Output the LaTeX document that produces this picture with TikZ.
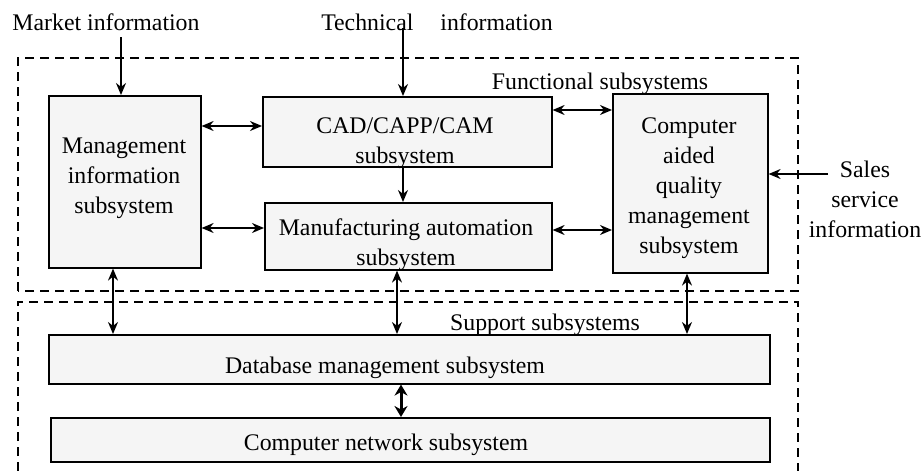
\documentclass[tikz,border=0pt]{standalone}
\usepackage{fontspec}
\setmainfont{Liberation Serif}
\usetikzlibrary{arrows.meta}
\begin{document}
\begin{tikzpicture}[x=1pt,y=-1pt,
  box/.style={draw=black,line width=1.6pt,fill=black!4,inner sep=0pt,anchor=north west},
  lbl/.style={font=\fontsize{23.8}{30}\selectfont,align=center,inner sep=0pt},
  grp/.style={draw=black,line width=1.6pt,dash pattern=on 9pt off 6pt},
  arr/.style={line width=1.5pt,-{Stealth[length=12pt,width=10pt]}},
  dbl/.style={line width=1.5pt,{Stealth[length=12pt,width=10pt]}-{Stealth[length=12pt,width=10pt]}},
  thk/.style={line width=3pt,{Stealth[length=11pt,width=13pt]}-{Stealth[length=11pt,width=13pt]}}]
\useasboundingbox (0,0) rectangle (924,471);
% group frames
\draw[grp] (18,291) -- (18,58) -- (798,58) -- (798,291) -- (18,291);
\draw[grp] (18,471) -- (18,302) -- (798,302) -- (798,471);
% boxes
\node[box,minimum width=152pt,minimum height=172pt] (mis) at (48,95) {};
\node[box,minimum width=289pt,minimum height=70pt] (cad) at (262,96) {};
\node[box,minimum width=287pt,minimum height=67pt] (mfg) at (264,202) {};
\node[box,minimum width=155pt,minimum height=179pt] (caq) at (612,93) {};
\node[box,minimum width=721pt,minimum height=49pt] (db) at (48,334) {};
\node[box,minimum width=719pt,minimum height=44pt] (net) at (50,417) {};
% box labels
\node[lbl] (misl) at (124,178) {Management\\information\\subsystem};
\node[lbl] (cadl) at (405,143) {CAD/CAPP/CAM\\subsystem};
\node[lbl] (mfgl) at (406,245) {Manufacturing automation\\subsystem};
\node[lbl] (caql) at (689,188) {Computer\\aided\\quality\\management\\subsystem};
\node[lbl] (dbl) at (385,368) {Database management subsystem};
\node[lbl] (netl) at (386,445) {Computer network subsystem};
% outside labels
\node[lbl] (mkt) at (106,22) {Market information};
\node[lbl] (tech) at (437,22) {Technical\hspace{21pt} information};
\node[lbl] (sales) at (865,199) {Sales\\service\\information};
\node[lbl] (fun) at (600,84) {Functional subsystems};
\node[lbl] (sup) at (545,325) {Support subsystems};
\coordinate (mktsrc) at (121,37);
\coordinate (techsrc) at (403,28);
\coordinate (salessrc) at (828,174);
% connectors
\draw[arr] (mktsrc) -- (mktsrc |- mis.north);
\draw[arr] (techsrc) -- (techsrc |- cad.north);
\draw[arr] (salessrc) -- (salessrc -| caq.east);
\draw[arr] (cad.south -| 403,0) -- (mfg.north -| 403,0);
\draw[dbl] (mis.east |- 0,126) -- (cad.west |- 0,126);
\draw[dbl] (mis.east |- 0,228) -- (mfg.west |- 0,228);
\draw[dbl] (cad.east |- 0,110) -- (caq.west |- 0,110);
\draw[dbl] (mfg.east |- 0,230) -- (caq.west |- 0,230);
\draw[dbl] (mis.south -| 113,0) -- (db.north -| 113,0);
\draw[dbl] (mfg.south -| 397,0) -- (db.north -| 397,0);
\draw[dbl] (caq.south -| 687,0) -- (db.north -| 687,0);
\draw[thk] (db.south -| 401,0) -- (net.north -| 401,0);
\end{tikzpicture}
\end{document}
